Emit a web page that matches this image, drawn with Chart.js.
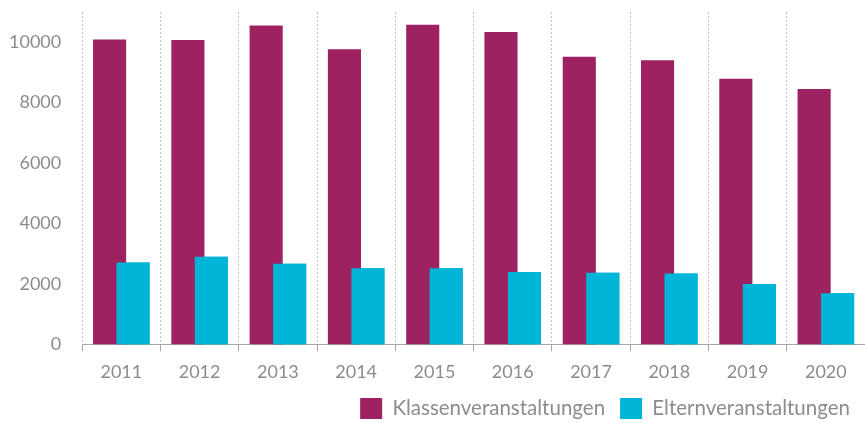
<!DOCTYPE html>
<html lang="de">
<head>
<meta charset="utf-8">
<title>Klassen- und Elternveranstaltungen 2011–2020</title>
<script src="https://cdn.jsdelivr.net/npm/chart.js@4/dist/chart.umd.min.js"></script>
<style>
  html, body { margin: 0; padding: 0; background: #ffffff; }
  #wrap { width: 865px; height: 423px; position: relative; }
</style>
</head>
<body>
<div id="wrap"><canvas id="chart"></canvas></div>
<script>
// Jahre und Anzahl der Veranstaltungen
const years = ['2011', '2012', '2013', '2014', '2015', '2016', '2017', '2018', '2019', '2020'];
const klassenveranstaltungen = [10090, 10070, 10550, 9770, 10580, 10340, 9520, 9400, 8790, 8450];
const elternveranstaltungen = [2710, 2900, 2670, 2520, 2520, 2400, 2370, 2350, 2000, 1690];
const yTicks = [0, 2000, 4000, 6000, 8000, 10000];

const seriesNames = ['Klassenveranstaltungen', 'Elternveranstaltungen'];
const colorKlassen = '#9e2262';
const colorEltern = '#00b5d8';
const textGrey = '#8c8c8c';
const fontFamily = 'Lato, "Open Sans", sans-serif';

const xTickPadding = 10;
const yTickPadding = 21;

// Die Elternbalken überlappen die Klassenbalken und liegen obenauf
const drawElternOnTop = {
  id: 'drawElternOnTop',
  afterDatasetsDraw(chart) {
    const meta = chart.getDatasetMeta(1);
    if (!meta.hidden) {
      const area = chart.chartArea;
      const ctx = chart.ctx;
      ctx.save();
      ctx.beginPath();
      ctx.rect(area.left, area.top - 2, area.right - area.left, area.bottom - area.top + 2);
      ctx.clip();
      meta.controller.draw();
      ctx.restore();
    }
  }
};

// Legende mit fester Höhe unter der Achse
const compactLegend = {
  id: 'compactLegend',
  beforeInit(chart) {
    const legend = chart.legend;
    if (!legend) return;
    const originalFit = legend.fit;
    legend.fit = function () {
      originalFit.call(this);
      this.height = 40;
    };
  }
};

new Chart(document.getElementById('chart'), {
  type: 'bar',
  data: {
    labels: years,
    datasets: [
      {
        label: seriesNames[0],
        data: klassenveranstaltungen,
        backgroundColor: colorKlassen,
        categoryPercentage: 0.6,
        barPercentage: 1.41
      },
      {
        label: seriesNames[1],
        data: elternveranstaltungen,
        backgroundColor: colorEltern,
        categoryPercentage: 0.6,
        barPercentage: 1.41
      }
    ]
  },
  options: {
    responsive: true,
    maintainAspectRatio: false,
    animation: false,
    layout: { padding: { left: 9, right: 0, top: 12, bottom: 0 } },
    plugins: {
      tooltip: { enabled: false },
      legend: {
        position: 'bottom',
        align: 'end',
        labels: {
          boxWidth: 22,
          boxHeight: 21,
          padding: 15,
          color: textGrey,
          font: { family: fontFamily, size: 20.5 }
        }
      }
    },
    scales: {
      x: {
        grid: {
          offset: true,
          color: '#c4c4c4',
          tickColor: '#a8a8a8',
          tickLength: 7
        },
        border: { display: true, color: '#a8a8a8', width: 1, dash: [2, 2] },
        ticks: {
          color: textGrey,
          padding: xTickPadding,
          font: { family: fontFamily, size: 18 }
        },
        afterFit(axis) {
          axis.height -= xTickPadding;
        }
      },
      y: {
        min: 0,
        max: 11000,
        grid: { display: false, drawTicks: false },
        border: { display: false },
        afterBuildTicks(axis) {
          axis.ticks = yTicks.map(v => ({ value: v }));
        },
        ticks: {
          color: textGrey,
          padding: yTickPadding,
          font: { family: fontFamily, size: 18 },
          callback: value => String(value)
        },
        afterFit(axis) {
          axis.width -= yTickPadding;
          axis.paddingTop = 0;
        }
      }
    }
  },
  plugins: [drawElternOnTop, compactLegend]
});
</script>
</body>
</html>
